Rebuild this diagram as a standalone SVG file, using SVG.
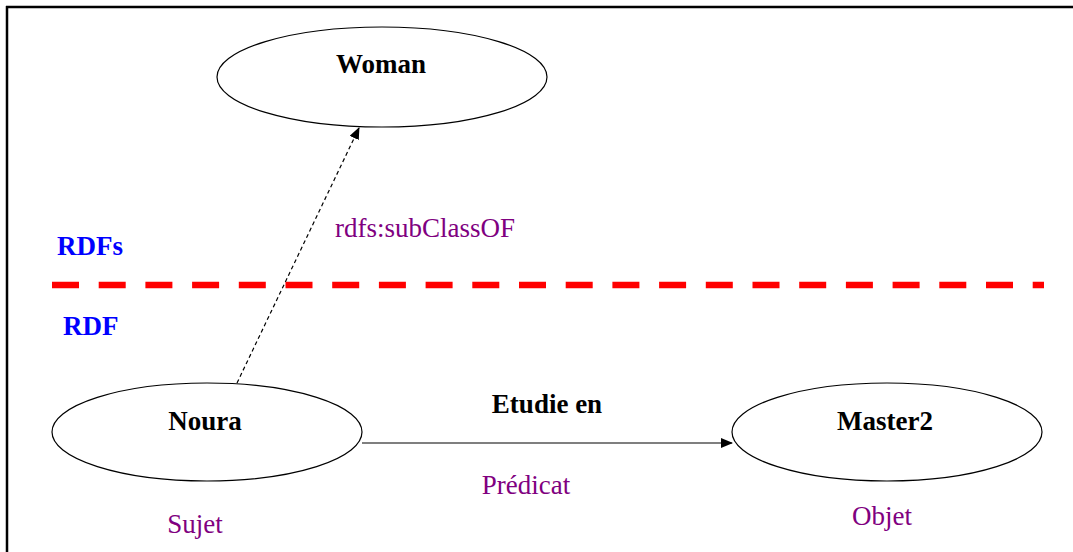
<svg xmlns="http://www.w3.org/2000/svg" width="1073" height="552" viewBox="0 0 1073 552">
<style>
.node{fill:#fff;stroke:#000;stroke-width:1.2}
.lbl{font-family:"Liberation Serif",serif;font-weight:bold;font-size:27px;fill:#000;text-anchor:middle}
.pur{font-family:"Liberation Serif",serif;font-size:27px;fill:#800080}
.blue{font-family:"Liberation Serif",serif;font-weight:bold;font-size:27px;fill:#0000ff}
</style>
<defs>
<marker id="ah" markerWidth="12" markerHeight="10" refX="11" refY="5" orient="auto" markerUnits="userSpaceOnUse">
<path d="M0,0 L12,5 L0,10 Z" fill="#000"/>
</marker>
</defs>
<rect width="1073" height="552" fill="#fff"/>
<g id="frame">
<line x1="6" y1="7" x2="1073" y2="7" stroke="#000" stroke-width="2.5"/>
<line x1="7" y1="6" x2="7" y2="552" stroke="#000" stroke-width="2.5"/>
</g>
<g id="separator">
<line x1="52" y1="285" x2="1044" y2="285" stroke="#ff0000" stroke-width="6.5" stroke-dasharray="27,19.7"/>
<text class="blue" x="57" y="255">RDFs</text>
<text class="blue" x="63" y="335">RDF</text>
</g>
<g id="connectors">
<line x1="237" y1="383" x2="359" y2="128" stroke="#000" stroke-width="1.2" stroke-dasharray="4,3" marker-end="url(#ah)"/>
<line x1="362" y1="443" x2="732" y2="443" stroke="#000" stroke-width="1.2" marker-end="url(#ah)"/>
<text class="pur" x="335" y="237">rdfs:subClassOF</text>
<text class="lbl" x="547" y="413">Etudie en</text>
<text class="pur" x="526" y="494" text-anchor="middle">Prédicat</text>
</g>
<g id="woman">
<ellipse class="node" cx="382" cy="77" rx="165" ry="50"/>
<text class="lbl" x="381" y="73">Woman</text>
</g>
<g id="noura">
<ellipse class="node" cx="207" cy="432" rx="155" ry="49"/>
<text class="lbl" x="205" y="430">Noura</text>
<text class="pur" x="195" y="533" text-anchor="middle">Sujet</text>
</g>
<g id="master2">
<ellipse class="node" cx="887" cy="432" rx="155" ry="49"/>
<text class="lbl" x="885" y="430">Master2</text>
<text class="pur" x="882" y="525" text-anchor="middle">Objet</text>
</g>
</svg>
